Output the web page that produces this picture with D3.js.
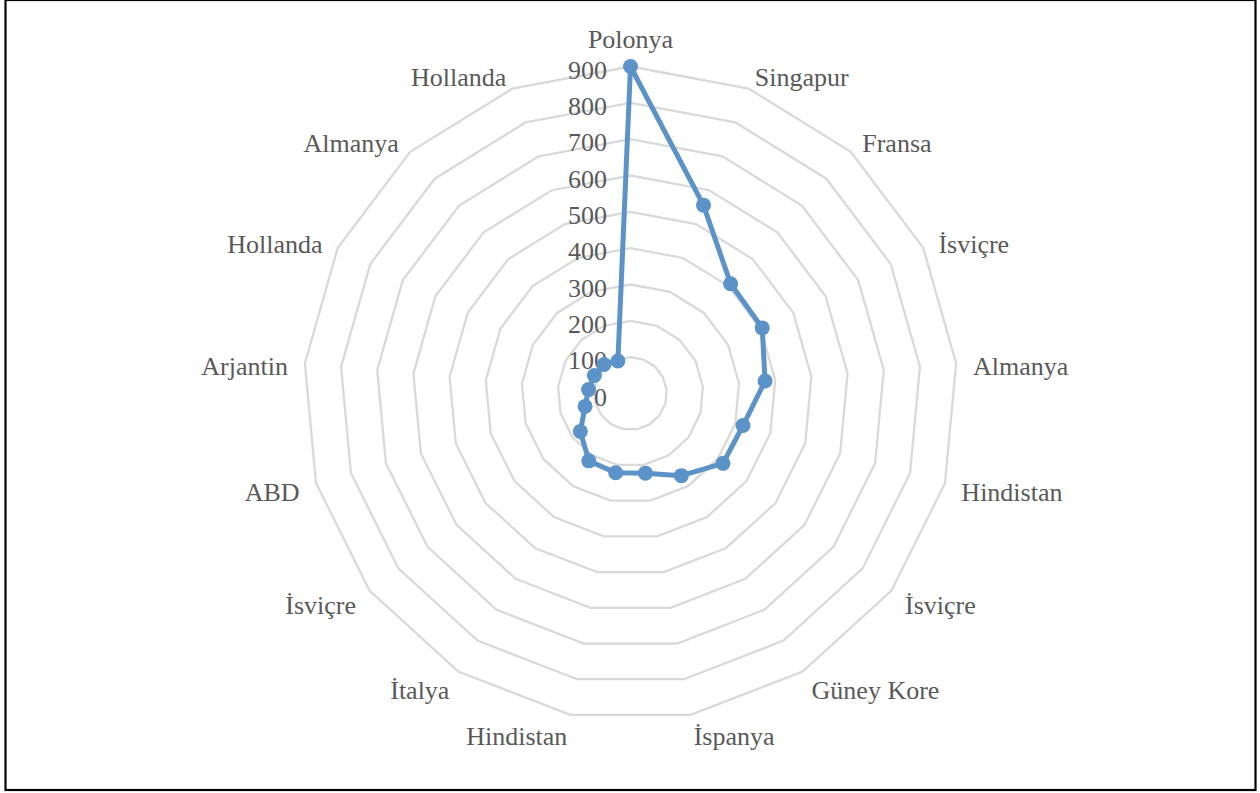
<!DOCTYPE html>
<html><head><meta charset="utf-8">
<script src="https://cdn.jsdelivr.net/npm/d3@7/dist/d3.min.js"></script>
<style>html,body{margin:0;padding:0;background:#fff;}svg{display:block;}</style>
</head><body><svg id="c" width="1260" height="793"></svg>
<script>
const categories = ["Polonya","Singapur","Fransa","İsviçre","Almanya","Hindistan","İsviçre","Güney Kore","İspanya","Hindistan","İtalya","İsviçre","ABD","Arjantin","Hollanda","Almanya","Hollanda"];
const values = [900,556,409,405,372,322,319,266,223,222,218,173,130,116,111,108,96];
const tickValues = [0,100,200,300,400,500,600,700,800,900];

const W = 1260, H = 793;
const cx = 630.5, cy = 393.5, R = 327;
const svg = d3.select("#c");
svg.append("rect").attr("x",0).attr("y",0).attr("width",W).attr("height",H).attr("fill","#fff");
svg.append("rect").attr("x",5.5).attr("y",0).attr("width",1250).attr("height",790)
  .attr("fill","none").attr("stroke","#000").attr("stroke-width",2.2);

const r = d3.scaleLinear().domain([0,900]).range([0,R]);
const n = categories.length;
const ang = d3.scalePoint().domain(d3.range(n+1)).range([0, 2*Math.PI]);
const a = i => ang(i);
const px = (i,v) => cx + Math.sin(a(i))*r(v);
const py = (i,v) => cy - Math.cos(a(i))*r(v);

const g = svg.append("g");
// grid rings
tickValues.filter(t=>t>0).forEach(t=>{
  const pts = d3.range(n).map(i=>[px(i,t),py(i,t)]);
  g.append("path").attr("d", d3.line().curve(d3.curveLinearClosed)(pts))
    .attr("fill","none").attr("stroke","#d9d9d9").attr("stroke-width",2.3);
});

const font = "'Liberation Serif','Times New Roman',serif";
// tick labels
g.selectAll("text.tick").data(tickValues).join("text")
  .attr("x", cx-23.5).attr("y", d=>cy - r(d) + 3)
  .attr("dy","0.35em").attr("text-anchor","end")
  .attr("font-family",font).attr("font-size",26).attr("fill","#595959")
  .text(d=>d);

// category labels
const gap = 17;
categories.forEach((c,i)=>{
  const A = a(i);
  const x = cx + Math.sin(A)*(R+gap), y = cy - Math.cos(A)*(R+gap);
  let anchor = "middle", yy = y + 4;
  if (i===0) { yy = y - 11; }
  else if (A < Math.PI) anchor = "start";
  else anchor = "end";
  g.append("text").attr("x",x).attr("y",yy).attr("dy","0.35em")
    .attr("text-anchor",anchor).attr("font-family",font).attr("font-size",26)
    .attr("fill","#595959").text(c);
});

// series
const color = "#5b93c9";
const pts = values.map((v,i)=>[px(i,v),py(i,v)]);
g.append("path").attr("d", d3.line().curve(d3.curveLinearClosed)(pts))
  .attr("fill","none").attr("stroke",color).attr("stroke-width",5).attr("stroke-linejoin","round");
g.selectAll("circle.m").data(values).join("circle")
  .attr("cx",(d,i)=>px(i,d)).attr("cy",(d,i)=>py(i,d)).attr("r",7.5)
  .attr("fill",color);
</script></body></html>
